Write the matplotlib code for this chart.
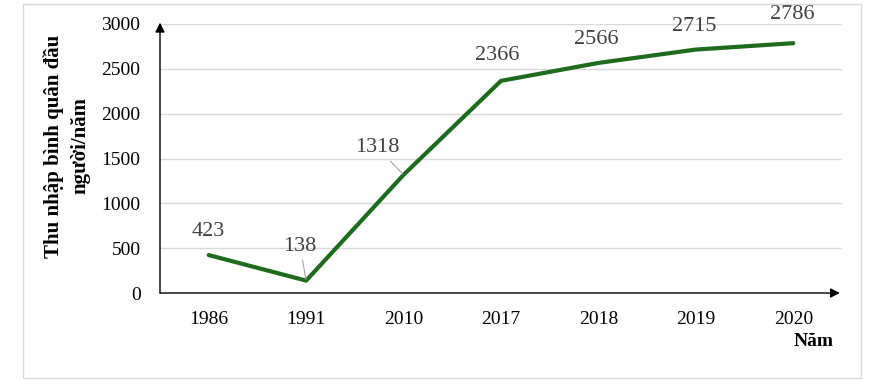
import numpy as np
import matplotlib.pyplot as plt
from matplotlib.patches import Rectangle

# dữ liệu
nam = ["1986", "1991", "2010", "2017", "2018", "2019", "2020"]
thu_nhap = [423, 138, 1318, 2366, 2566, 2715, 2786]
# vị trí nhãn (pixel) so với điểm
lech_nhan = [(0, 24), (-6, 34), (-26, 27), (-4, 25), (-2, 23), (-2, 23), (-1, 29)]
co_duong_dan = [False, True, True, False, False, False, False]

plt.rcParams['font.family'] = ['Liberation Serif', 'DejaVu Serif']

fig = plt.figure(figsize=(8.85, 3.81), dpi=100)
ax = fig.add_axes([160 / 885, 1 - 293 / 381, 682 / 885, 269 / 381])

x = np.arange(len(nam))
ax.plot(x, thu_nhap, color='#1e6b1e', linewidth=3, solid_capstyle='round', zorder=3)

for xi, yi, (dx, dy), dd in zip(x, thu_nhap, lech_nhan, co_duong_dan):
    props = dict(arrowstyle='-', color='#a6a6a6', lw=0.8, shrinkA=1, shrinkB=1) if dd else None
    ax.annotate(str(yi), (xi, yi), xytext=(dx, dy), textcoords='offset pixels',
                ha='center', va='center', fontsize=16, color='#404040',
                arrowprops=props, annotation_clip=False)

ax.set_xlim(-0.5, len(nam) - 0.5)
ax.set_ylim(0, 3000)
ax.set_yticks(np.arange(0, 3001, 500))
ax.set_xticks(x)
ax.set_xticklabels(nam)
ax.tick_params(axis='both', length=0, labelsize=14, colors='black')
ax.tick_params(axis='x', pad=13)
ax.tick_params(axis='y', pad=14)
ax.yaxis.grid(True, color='#d9d9d9', linewidth=1)
ax.set_axisbelow(True)
for s in ax.spines.values():
    s.set_visible(False)

# trục có mũi tên
ax.annotate('', xy=(0, 1.005), xytext=(0, 0), xycoords='axes fraction',
            arrowprops=dict(arrowstyle='-|>', color='black', lw=1, mutation_scale=14, shrinkA=0, shrinkB=0))
ax.annotate('', xy=(0.997, 0), xytext=(0, 0), xycoords='axes fraction',
            arrowprops=dict(arrowstyle='-|>', color='black', lw=1, mutation_scale=14, shrinkA=0, shrinkB=0))

fig.text(67 / 885, 1 - 146 / 381, "Thu nhập bình quân đầu\nngười/năm", rotation=90,
         ha='center', va='center', fontsize=15, fontweight='bold', linespacing=1.4)
fig.text(814 / 885, 1 - 342 / 381, "Năm", ha='center', va='center', fontsize=14, fontweight='bold')

fig.patches.append(Rectangle((23 / 885, 3 / 381), 838 / 885, 374 / 381, transform=fig.transFigure,
                             fill=False, edgecolor='#d9d9d9', linewidth=1))

fig.savefig('out.png', dpi=100)
